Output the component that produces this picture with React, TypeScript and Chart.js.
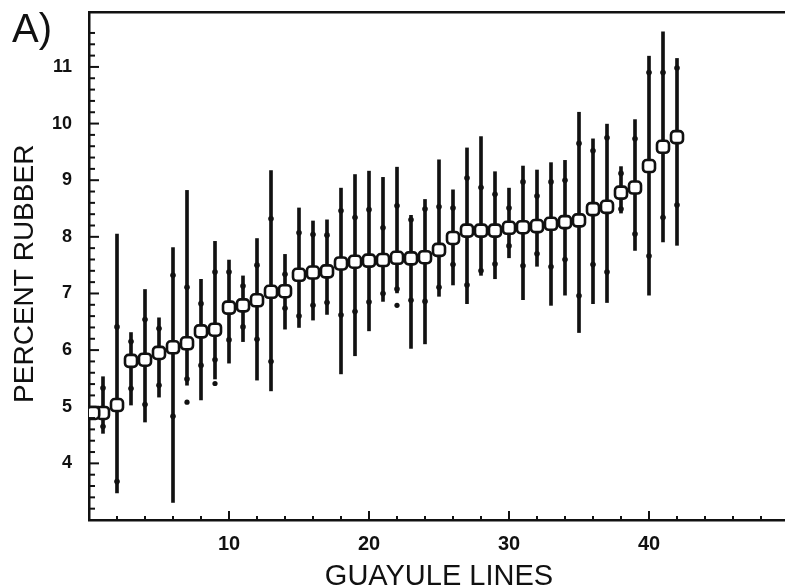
import { useEffect, useRef } from 'react';
import { Chart, registerables } from 'chart.js';

Chart.register(...registerables);

// Guayule lines (x positions)
const lineIds = Array.from({ length: 42 }, (_, i) => i + 1);

// mean percent rubber for each line (open squares)
const meanValues = [
  4.89, 5.03, 5.81, 5.83, 5.95, 6.05, 6.12, 6.33, 6.36, 6.75,
  6.79, 6.88, 7.03, 7.04, 7.33, 7.37, 7.39, 7.53, 7.56, 7.58,
  7.59, 7.63, 7.62, 7.64, 7.77, 7.98, 8.11, 8.11, 8.11, 8.16,
  8.17, 8.19, 8.23, 8.26, 8.29, 8.49, 8.53, 8.78, 8.87, 9.25,
  9.59, 9.76,
];

// range ends (vertical lines)
const minValues = [
  4.53, 3.48, 5.03, 4.73, 5.17, 3.31, 5.38, 5.12, 5.49, 5.77,
  6.15, 5.47, 5.28, 6.37, 6.40, 6.53, 6.63, 5.58, 5.90, 6.34,
  6.86, 7.01, 6.03, 6.11, 6.95, 7.15, 6.82, 7.32, 7.26, 7.63,
  6.89, 7.48, 6.79, 6.97, 6.31, 6.82, 6.84, 8.42, 7.76, 6.97,
  7.91, 7.85,
];
const maxValues = [
  5.53, 8.05, 6.31, 7.07, 6.57, 7.81, 8.82, 7.25, 7.92, 7.59,
  7.31, 7.97, 9.17, 7.69, 8.51, 8.28, 8.30, 8.86, 9.10, 9.16,
  9.05, 9.23, 8.38, 8.66, 9.36, 8.83, 9.57, 9.77, 9.15, 8.86,
  9.25, 9.18, 9.31, 9.35, 10.20, 9.73, 9.99, 9.24, 10.07, 11.19,
  11.62, 11.15,
];

// inner dots along each line
const lowDots = [
  4.65, 3.68, 5.32, 5.04, 5.38, 4.83, 5.49, 5.73, 5.83, 6.18,
  6.41, 6.19, 5.80, 6.74, 6.60, 6.79, 6.84, 6.62, 6.68, 6.85,
  7.00, 7.08, 6.88, 6.86, 7.11, 7.51, 7.15, 7.40, 7.52, 7.84,
  7.49, 7.70, 7.47, 7.60, 6.96, 7.51, 7.38, 8.49, 8.05, 7.66,
  8.34, 8.56,
];
const highDots = [
  5.33, 6.41, 6.15, 6.54, 6.38, 7.32, 7.11, 6.82, 7.38, 7.38,
  7.13, 7.50, 8.32, 7.34, 8.07, 8.04, 8.03, 8.46, 8.34, 8.48,
  8.16, 8.55, 8.30, 8.49, 8.53, 8.51, 9.04, 8.87, 8.75, 8.51,
  8.97, 8.72, 8.97, 9.00, 9.65, 9.52, 9.75, 9.12, 9.73, 10.90,
  10.90, 10.98,
];

// isolated points
const outlierLines = [7, 9, 22];
const outlierValues = [5.08, 5.41, 6.79];

// extra marker drawn against the y axis
const extraMarkerX = [0.3];
const extraMarkerY = [4.89];

const xLabelTicks = [10, 20, 30, 40];
const yLabelTicks = [4, 5, 6, 7, 8, 9, 10, 11];

const INK = '#111111';
const FONT = '"Liberation Sans", Arial, sans-serif';

const inwardTicks = {
  id: 'inwardTicks',
  afterDraw(chart: any) {
    const { ctx, chartArea } = chart;
    const xs = chart.scales.x;
    const ys = chart.scales.y;
    ctx.save();
    ctx.strokeStyle = INK;
    ctx.lineWidth = 2;
    xs.ticks.forEach((t: any) => {
      const v = t.value;
      if (Math.abs(v / 2 - Math.round(v / 2)) > 1e-6 || v <= 0) return;
      const px = xs.getPixelForValue(v);
      const major = Math.abs(v / 10 - Math.round(v / 10)) < 1e-6;
      ctx.beginPath();
      ctx.moveTo(px, chartArea.bottom);
      ctx.lineTo(px, chartArea.bottom - (major ? 9 : 4));
      ctx.stroke();
    });
    ys.ticks.forEach((t: any) => {
      const v = t.value;
      if (Math.abs(v * 5 - Math.round(v * 5)) > 1e-6 || v <= 3.01) return;
      const py = ys.getPixelForValue(v);
      const major = Math.abs(v - Math.round(v)) < 1e-6;
      ctx.beginPath();
      ctx.moveTo(chartArea.left, py);
      ctx.lineTo(chartArea.left + (major ? 10 : 6), py);
      ctx.stroke();
    });
    ctx.fillStyle = INK;
    ctx.font = `40px ${FONT}`;
    ctx.textBaseline = 'alphabetic';
    ctx.textAlign = 'left';
    ctx.fillText('A)', 12, 42);
    ctx.restore();
  },
};

export default function App() {
  const ref = useRef<HTMLCanvasElement | null>(null);

  useEffect(() => {
    if (!ref.current) return;
    const chart = new Chart(ref.current, {
      type: 'bar',
      data: {
        datasets: [
          {
            type: 'scatter',
            label: 'mean',
            data: lineIds.map((x, i) => ({ x, y: meanValues[i] })).concat(
              extraMarkerX.map((x, i) => ({ x, y: extraMarkerY[i] }))
            ),
            pointStyle: 'rectRounded',
            pointRadius: 7,
            pointBackgroundColor: '#ffffff',
            pointBorderColor: INK,
            pointBorderWidth: 2.6,
            order: 0,
          } as any,
          {
            type: 'scatter',
            label: 'dots',
            data: lineIds
              .map((x, i) => ({ x, y: lowDots[i] }))
              .concat(lineIds.map((x, i) => ({ x, y: highDots[i] }))),
            pointStyle: 'circle',
            pointRadius: 2.8,
            pointBackgroundColor: INK,
            pointBorderWidth: 0,
            order: 1,
          } as any,
          {
            type: 'scatter',
            label: 'outliers',
            data: outlierLines.map((x, i) => ({ x, y: outlierValues[i] })),
            pointStyle: 'circle',
            pointRadius: 2.6,
            pointBackgroundColor: INK,
            pointBorderWidth: 0,
            order: 1,
          } as any,
          {
            type: 'bar',
            label: 'range',
            data: lineIds.map((x, i) => ({ x, y: [minValues[i], maxValues[i]] })),
            backgroundColor: INK,
            borderWidth: 0,
            barThickness: 3,
            grouped: false,
            order: 2,
          } as any,
        ],
      },
      options: {
        animation: false,
        responsive: false,
        devicePixelRatio: 1,
        layout: { padding: { left: 0, top: 12, right: 11, bottom: 0 } },
        plugins: {
          legend: { display: false },
          tooltip: { enabled: false },
        },
        scales: {
          x: {
            type: 'linear',
            position: 'bottom',
            min: 0,
            max: 50,
            offset: false,
            grid: { display: false, drawTicks: false },
            border: { display: true, color: INK, width: 2.5 },
            ticks: {
              stepSize: 2,
              autoSkip: false,
              maxRotation: 0,
              padding: 12,
              color: INK,
              font: { family: FONT, size: 20, weight: 'bold' },
              callback: (v: any) => (xLabelTicks.includes(Math.round(Number(v))) && Math.abs(Number(v) - Math.round(Number(v))) < 1e-6 ? String(Math.round(Number(v))) : ''),
            },
            title: {
              display: true,
              text: 'GUAYULE LINES',
              color: INK,
              font: { family: FONT, size: 29, lineHeight: 1 },
              padding: { top: 0, bottom: -3 },
            },
            afterFit: (s: any) => {
              s.height = 68;
              s.paddingLeft = 0;
              s.paddingRight = 0;
            },
          },
          x2: {
            type: 'linear',
            position: 'top',
            min: 0,
            max: 50,
            grid: { display: false, drawTicks: false },
            border: { display: true, color: INK, width: 2.5 },
            ticks: { display: false },
            afterFit: (s: any) => {
              s.height = 0;
              s.paddingLeft = 0;
              s.paddingRight = 0;
            },
          },
          y: {
            type: 'linear',
            min: 3,
            max: 11.97,
            beginAtZero: false,
            grid: { display: false, drawTicks: false },
            border: { display: true, color: INK, width: 2.5 },
            ticks: {
              stepSize: 0.2,
              autoSkip: false,
              maxTicksLimit: 200,
              padding: 17,
              color: INK,
              font: { family: FONT, size: 18, weight: 'bold' },
              callback: (v: any) => {
                const n = Number(v);
                const r = Math.round(n);
                return Math.abs(n - r) < 1e-6 && yLabelTicks.includes(r) ? String(r) : '';
              },
            },
            title: {
              display: true,
              text: 'PERCENT RUBBER  ',
              color: INK,
              font: { family: FONT, size: 28 },
              padding: { top: 8, bottom: 0 },
            },
            afterFit: (s: any) => {
              s.width = 89;
              s.paddingTop = 0;
              s.paddingBottom = 0;
            },
          },
        },
      } as any,
      plugins: [inwardTicks],
    });
    return () => chart.destroy();
  }, []);

  return (
    <div
      style={{
        position: 'fixed',
        left: 0,
        top: 0,
        width: 785,
        height: 588,
        overflow: 'hidden',
        background: '#ffffff',
      }}
    >
      <canvas ref={ref} width={800} height={588} style={{ display: 'block' }} />
    </div>
  );
}
